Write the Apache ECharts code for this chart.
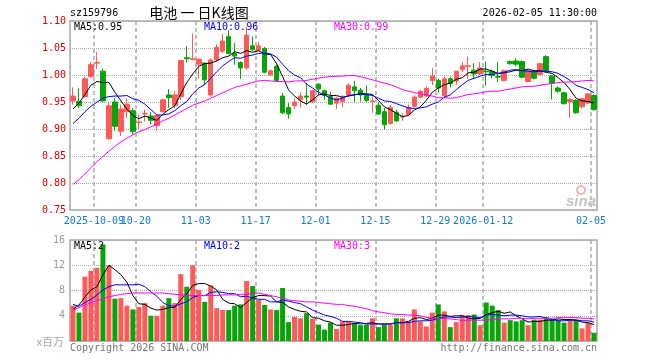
<!DOCTYPE html>
<html><head><meta charset="utf-8">
<script src="https://cdn.jsdelivr.net/npm/echarts@6/dist/echarts.min.js"></script>
<style>html,body{margin:0;padding:0;background:#fff}#c{width:660px;height:360px}</style>
</head><body><div id="c"></div>
<script>
const dates = ('2025-09-25 2025-09-26 2025-09-29 2025-09-30 2025-10-09 2025-10-10 2025-10-13 2025-10-14 2025-10-15 2025-10-16 2025-10-17 2025-10-20 2025-10-21 2025-10-22 2025-10-23 2025-10-24 2025-10-27 2025-10-28 2025-10-29 2025-10-30 2025-10-31 ' +
  '2025-11-03 2025-11-04 2025-11-05 2025-11-06 2025-11-07 2025-11-10 2025-11-11 2025-11-12 2025-11-13 2025-11-14 2025-11-17 2025-11-18 2025-11-19 2025-11-20 2025-11-21 2025-11-24 2025-11-25 2025-11-26 2025-11-27 2025-11-28 ' +
  '2025-12-01 2025-12-02 2025-12-03 2025-12-04 2025-12-05 2025-12-08 2025-12-09 2025-12-10 2025-12-11 2025-12-12 2025-12-15 2025-12-16 2025-12-17 2025-12-18 2025-12-19 2025-12-22 2025-12-23 2025-12-24 2025-12-25 2025-12-26 2025-12-29 2025-12-30 2025-12-31 ' +
  '2026-01-05 2026-01-06 2026-01-07 2026-01-08 2026-01-09 2026-01-12 2026-01-13 2026-01-14 2026-01-15 2026-01-16 2026-01-19 2026-01-20 2026-01-21 2026-01-22 2026-01-23 2026-01-26 2026-01-27 2026-01-28 2026-01-29 2026-01-30 2026-02-02 2026-02-03 2026-02-04 2026-02-05').split(' ');

const opens = [0.952,0.951,0.960,0.997,1.022,1.007,0.882,0.950,0.896,0.932,
 0.934,0.912,0.928,0.924,0.906,0.932,0.963,0.944,0.960,1.032,
 1.029,1.020,1.022,0.963,1.028,1.044,1.071,1.040,1.023,1.013,
 1.054,1.046,1.049,1.000,1.016,0.961,0.940,0.943,0.954,0.961,
 0.950,0.983,0.971,0.960,0.948,0.951,0.963,0.978,0.972,0.964,
 0.951,0.944,0.932,0.910,0.931,0.922,0.927,0.942,0.959,0.961,
 0.990,0.990,0.962,0.993,0.989,1.010,1.016,1.009,1.002,1.007,
 1.007,0.997,0.990,1.025,1.026,1.025,0.988,1.007,1.001,1.034,
 0.998,0.976,0.967,0.951,0.953,0.941,0.948,0.962];
const closes = [0.961,0.943,0.993,1.019,1.023,0.952,0.943,0.905,0.937,0.946,
 0.895,0.913,0.929,0.916,0.925,0.954,0.958,0.963,1.027,1.030,
 1.030,1.029,0.991,1.028,1.051,1.063,1.040,1.035,1.013,1.074,
 1.047,1.054,1.005,1.008,0.990,0.930,0.928,0.950,0.961,0.959,
 0.971,0.974,0.962,0.946,0.957,0.958,0.981,0.971,0.963,0.953,
 0.952,0.928,0.908,0.940,0.915,0.923,0.940,0.959,0.970,0.975,
 0.998,0.976,0.993,0.984,1.007,1.017,1.017,1.002,1.013,1.006,
 0.999,0.996,1.008,1.021,1.020,0.996,1.008,0.994,1.021,1.007,
 0.985,0.970,0.947,0.955,0.930,0.956,0.965,0.936];
const lows = [0.945,0.939,0.957,0.995,1.011,0.949,0.880,0.897,0.887,0.920,
 0.890,0.900,0.914,0.908,0.896,0.931,0.939,0.939,0.954,1.023,
 1.027,0.994,0.982,0.960,1.025,1.041,1.038,1.019,0.993,1.010,
 1.044,1.044,1.003,0.999,0.988,0.927,0.919,0.937,0.939,0.945,
 0.948,0.963,0.954,0.945,0.937,0.940,0.960,0.950,0.951,0.950,
 0.930,0.926,0.899,0.908,0.913,0.915,0.926,0.940,0.957,0.960,
 0.981,0.968,0.957,0.977,0.982,1.005,0.993,0.994,1.000,0.980,
 0.994,0.987,0.988,1.019,1.016,0.994,0.986,0.992,0.999,1.005,
 0.955,0.967,0.945,0.921,0.928,0.938,0.946,0.934];
const highs = [0.977,0.975,0.997,1.024,1.043,1.012,0.950,0.957,0.945,0.957,
 0.939,0.927,0.936,0.931,0.928,0.956,0.974,0.970,1.028,1.053,
 1.077,1.031,1.024,1.031,1.057,1.076,1.083,1.059,1.025,1.089,
 1.071,1.062,1.052,1.010,1.019,0.967,0.948,0.957,0.968,0.985,
 0.973,0.985,0.973,0.969,0.960,0.963,0.985,0.989,0.976,0.981,
 0.960,0.950,0.939,0.944,0.936,0.929,0.945,0.963,0.973,0.979,
 1.013,0.993,0.997,0.997,1.008,1.024,1.034,1.022,1.024,1.025,
 1.010,1.024,1.010,1.027,1.031,1.027,1.010,1.010,1.023,1.037,
 1.000,0.979,0.969,0.957,0.955,0.958,0.967,0.964];
const ma5 = [0.937,0.948,0.964,0.981,0.988,0.986,0.986,0.968,0.952,0.937,
 0.925,0.919,0.924,0.920,0.916,0.927,0.936,0.943,0.965,0.986,
 1.002,1.016,1.021,1.022,1.026,1.032,1.035,1.043,1.040,1.045,
 1.042,1.045,1.039,1.038,1.021,0.997,0.972,0.961,0.952,0.946,
 0.954,0.963,0.965,0.962,0.962,0.959,0.961,0.963,0.966,0.965,
 0.964,0.953,0.941,0.936,0.929,0.923,0.925,0.935,0.941,0.953,
 0.968,0.976,0.982,0.985,0.992,0.995,1.004,1.005,1.011,1.011,
 1.007,1.003,1.004,1.006,1.009,1.008,1.011,1.008,1.008,1.005,
 1.003,0.995,0.986,0.973,0.957,0.952,0.951,0.948];
const ma10 = [0.910,0.920,0.932,0.942,0.950,0.957,0.960,0.961,0.961,0.962,
 0.956,0.953,0.946,0.936,0.926,0.926,0.928,0.934,0.943,0.951,
 0.965,0.976,0.982,0.994,1.006,1.017,1.025,1.032,1.031,1.035,
 1.037,1.040,1.041,1.039,1.033,1.020,1.008,1.000,0.995,0.983,
 0.976,0.968,0.963,0.957,0.954,0.957,0.962,0.964,0.964,0.964,
 0.962,0.957,0.952,0.951,0.947,0.943,0.939,0.938,0.939,0.941,
 0.946,0.950,0.959,0.963,0.973,0.982,0.990,0.994,0.998,1.001,
 1.001,1.003,1.005,1.009,1.010,1.008,1.007,1.006,1.007,1.007,
 1.006,1.003,0.997,0.990,0.981,0.977,0.973,0.967];
const ma30 = [0.797,0.806,0.817,0.828,0.840,0.849,0.859,0.868,0.876,0.883,
 0.889,0.895,0.899,0.904,0.909,0.915,0.920,0.926,0.932,0.938,
 0.944,0.948,0.952,0.957,0.962,0.967,0.972,0.977,0.980,0.983,
 0.986,0.989,0.990,0.989,0.988,0.988,0.987,0.989,0.989,0.990,
 0.992,0.994,0.996,0.997,0.998,0.998,0.999,0.999,0.997,0.994,
 0.991,0.988,0.985,0.982,0.978,0.973,0.970,0.967,0.966,0.963,
 0.961,0.958,0.958,0.957,0.958,0.961,0.964,0.965,0.967,0.969,
 0.970,0.970,0.972,0.974,0.976,0.978,0.979,0.979,0.981,0.983,
 0.984,0.986,0.987,0.987,0.988,0.989,0.990,0.989];
const volumes = [5.6,4.5,10.2,11.1,11.6,15.3,12.0,6.7,6.8,5.6,
 5.0,5.4,6.0,4.0,4.0,5.6,6.8,6.0,10.6,8.6,
 12.0,8.1,6.2,8.8,5.2,4.9,4.9,5.6,5.8,9.5,
 8.7,6.5,5.7,5.0,4.9,8.4,3.0,3.8,3.6,4.4,
 3.5,2.6,1.8,2.9,1.9,3.1,3.1,2.8,2.5,2.6,
 3.6,2.2,2.6,2.6,3.6,3.6,3.1,5.0,3.1,2.3,
 4.5,5.8,4.7,2.2,3.0,4.1,4.1,4.2,2.5,6.1,
 5.6,4.9,2.9,3.3,3.1,3.3,2.5,3.4,3.4,3.8,
 3.4,3.3,2.9,3.4,3.4,2.0,2.9,1.3];
const volMa5 = [5.0,5.7,7.0,8.1,8.6,10.5,12.0,11.3,10.5,9.3,
 7.2,5.9,5.8,5.2,4.9,5.0,5.3,5.3,6.6,7.5,
 8.8,9.1,9.1,8.7,8.1,6.6,6.0,5.9,5.3,6.1,
 6.9,7.2,7.2,7.1,6.2,6.1,5.4,5.0,4.7,4.6,
 3.7,3.6,3.2,3.0,2.5,2.5,2.6,2.8,2.7,2.8,
 2.9,2.7,2.7,2.7,2.9,2.9,3.1,3.6,3.7,3.4,
 3.6,4.1,4.1,3.9,4.0,4.0,3.6,3.5,3.6,4.2,
 4.5,4.7,4.4,4.6,4.0,3.5,3.0,3.1,3.1,3.3,
 3.3,3.5,3.4,3.4,3.3,3.0,2.9,2.6];
const volMa10 = [5.8,5.5,6.1,6.6,7.3,8.1,8.6,8.9,8.9,8.9,
 8.9,9.0,8.6,7.8,7.1,6.1,5.6,5.5,5.9,6.2,
 6.9,7.2,7.2,7.7,7.8,7.7,7.5,7.5,7.0,7.1,
 6.8,6.6,6.6,6.2,6.2,6.5,6.3,6.1,5.9,5.4,
 4.9,4.5,4.1,3.9,3.6,3.1,3.1,3.0,2.9,2.7,
 2.7,2.7,2.7,2.7,2.9,2.9,2.9,3.1,3.2,3.2,
 3.3,3.6,3.8,3.8,3.7,3.8,3.9,3.8,3.7,4.1,
 4.2,4.1,4.0,4.1,4.1,4.0,3.8,3.8,3.9,3.6,
 3.4,3.2,3.2,3.3,3.3,3.2,3.2,3.0];
const volMa30 = [4.9,5.3,5.7,6.1,6.4,6.7,7.0,7.2,7.4,7.5,
 7.6,7.6,7.6,7.6,7.6,7.6,7.5,7.4,7.3,7.2,
 7.2,7.2,7.2,7.2,7.2,7.3,7.3,7.3,7.4,7.4,
 7.5,7.6,7.4,7.2,7.0,6.8,6.5,6.4,6.3,6.2,
 6.2,6.1,6.0,5.9,5.8,5.8,5.6,5.5,5.3,5.1,
 4.8,4.6,4.5,4.3,4.2,4.2,4.1,4.1,4.0,3.75,
 3.6,3.6,3.55,3.5,3.4,3.25,3.3,3.3,3.3,3.3,
 3.4,3.5,3.5,3.5,3.6,3.6,3.5,3.6,3.6,3.6,
 3.6,3.7,3.7,3.7,3.7,3.6,3.6,3.5];
const tickDates = ['2025-10-09','2025-10-20','2025-11-03','2025-11-17','2025-12-01','2025-12-15','2025-12-29','2026-01-12','2026-02-05'];
const tickLabels = ['2025-10-09','10-20','11-03','11-17','12-01','12-15','12-29','2026-01-12','02-05'];
const priceLegend = ['MA5:0.95','MA10:0.96','MA30:0.99'];
const volLegend = ['MA5:2','MA10:2','MA30:3'];

const UP = '#ff5a5a', DOWN = '#08a508';
const MONO = '"DejaVu Sans Mono", monospace';
const boundaries = dates.concat(['']);
const isTick = (v) => tickDates.indexOf(v) >= 0;

const chart = echarts.init(document.getElementById('c'), null, {renderer: 'canvas'});
const gridStyle = {show: true, borderColor: '#a8a8a8', borderWidth: 1.5, backgroundColor: '#fff'};
const dashed = {show: true, interval: (i, v) => isTick(v), lineStyle: {color: '#aaa', type: [4, 3], width: 1.5}};

const candleData = opens.map((o, i) => [o, closes[i], lows[i], highs[i]]);
const volData = volumes.map((v, i) => ({value: v, itemStyle: {color: closes[i] >= opens[i] ? UP : DOWN}}));
const maLine = (name, data, color, xi, yi) => ({name, type: 'line', data, xAxisIndex: xi, yAxisIndex: yi,
  showSymbol: false, symbol: 'none', smooth: false, lineStyle: {color, width: 1}, z: 5, silent: true});

function txt(x, y, text, fill, opts) {
  return Object.assign({type: 'text', x, y, silent: true, z: 100,
    style: Object.assign({text, fill, fontSize: 10, fontFamily: MONO, textVerticalAlign: 'middle'}, opts || {})});
}

chart.setOption({
  animation: false,
  backgroundColor: '#fff',
  grid: [
    Object.assign({left: 70, top: 21, width: 527, height: 189}, gridStyle),
    Object.assign({left: 70, top: 240, width: 527, height: 101}, gridStyle)
  ],
  xAxis: [
    {type: 'category', gridIndex: 0, data: dates, boundaryGap: true, position: 'top',
      axisLine: {show: false}, axisTick: {show: false}, axisLabel: {show: false}, splitLine: {show: false}},
    {type: 'category', gridIndex: 0, data: boundaries, boundaryGap: false, position: 'bottom',
      axisLine: {show: false}, axisTick: {show: false},
      axisLabel: {show: true, interval: (i, v) => i === 0 || i === boundaries.length - 1 || isTick(v),
        showMinLabel: false, showMaxLabel: false, hideOverlap: false,
        formatter: (v) => { const j = tickDates.indexOf(v); return j >= 0 ? tickLabels[j] : ' '; },
        color: '#1479d0', fontFamily: MONO, fontSize: 10, margin: 6},
      splitLine: dashed},
    {type: 'category', gridIndex: 1, data: dates, boundaryGap: true, position: 'top',
      axisLine: {show: false}, axisTick: {show: false}, axisLabel: {show: false}, splitLine: {show: false}},
    {type: 'category', gridIndex: 1, data: boundaries, boundaryGap: false, position: 'bottom',
      axisLine: {show: false}, axisTick: {show: false}, axisLabel: {show: false},
      splitLine: dashed}
  ],
  yAxis: [
    {type: 'value', gridIndex: 0, min: 0.75, max: 1.10, interval: 0.05,
      axisLine: {show: false}, axisTick: {show: false},
      axisLabel: {color: '#e00000', fontFamily: MONO, fontSize: 10, margin: 4, formatter: (v) => v.toFixed(2)},
      splitLine: {show: true, lineStyle: {color: '#aaa', type: 'dotted', width: 1}}},
    {type: 'value', gridIndex: 1, min: 0, max: 16, interval: 4,
      axisLine: {show: false}, axisTick: {show: false},
      axisLabel: {color: '#999', fontFamily: MONO, fontSize: 10, margin: 5, formatter: (v) => v === 0 ? '' : String(v)},
      splitLine: {show: true, lineStyle: {color: '#aaa', type: 'dotted', width: 1}}}
  ],
  series: [
    {type: 'candlestick', xAxisIndex: 0, yAxisIndex: 0, data: candleData, barWidth: 5,
      itemStyle: {color: UP, color0: DOWN, borderColor: UP, borderColor0: DOWN, borderWidth: 1}, z: 3},
    maLine('MA5', ma5, '#000000', 0, 0),
    maLine('MA10', ma10, '#0000ff', 0, 0),
    maLine('MA30', ma30, '#ff00ff', 0, 0),
    {type: 'bar', xAxisIndex: 2, yAxisIndex: 1, data: volData, barWidth: 5, z: 3},
    maLine('VMA5', volMa5, '#000000', 2, 1),
    maLine('VMA10', volMa10, '#0000ff', 2, 1),
    maLine('VMA30', volMa30, '#ff00ff', 2, 1)
  ],
  graphic: [
    txt(70, 13, 'sz159796', '#000'),
    txt(199, 13, '电池 一 日K线图', '#000', {fontSize: 14, fontFamily: '"Noto Sans CJK SC", sans-serif', textAlign: 'center'}),
    txt(597, 13, '2026-02-05 11:30:00', '#000', {textAlign: 'right'}),
    txt(74, 27, priceLegend[0], '#000'),
    txt(204, 27, priceLegend[1], '#0000ff'),
    txt(334, 27, priceLegend[2], '#ff00ff'),
    txt(74, 246, volLegend[0], '#000'),
    txt(204, 246, volLegend[1], '#0000ff'),
    txt(334, 246, volLegend[2], '#ff00ff'),
    txt(64, 342, 'x百万', '#aaa', {textAlign: 'right', fontSize: 11, fontFamily: '"Noto Sans CJK SC", sans-serif'}),
    txt(70, 348, 'Copyright 2026 SINA.COM', '#777'),
    txt(597, 348, 'http://finance.sina.com.cn', '#777', {textAlign: 'right'}),
    txt(596, 202, 'sina', '#c4c4c4', {textAlign: 'right', fontSize: 15, fontWeight: 'bold', fontStyle: 'italic', fontFamily: 'Arial, "Liberation Sans", sans-serif'}),
    {type: 'circle', shape: {cx: 581, cy: 190, r: 4}, style: {fill: 'none', stroke: '#f4b0b0', lineWidth: 2}, silent: true, z: 100}
  ]
});
</script></body></html>
